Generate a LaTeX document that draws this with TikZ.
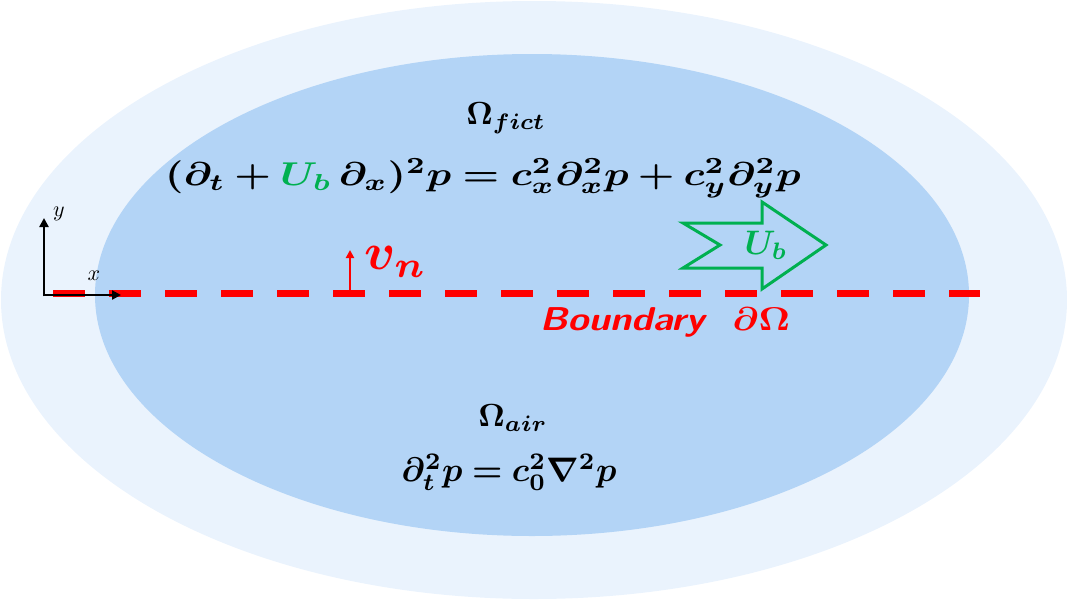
\documentclass[tikz,border=0pt]{standalone}
\usepackage{amsmath,bm}
\usetikzlibrary{arrows.meta}
\definecolor{outerc}{HTML}{EAF3FD}
\definecolor{innerc}{HTML}{B3D4F6}
\definecolor{gr}{HTML}{00B050}
\definecolor{rd}{HTML}{FF0000}
\newcommand{\myscl}[2]{\scalebox{#1}{#2}}
\tikzset{ax/.style={line width=2.5pt,-{Triangle[length=9pt,width=9pt]}}}
\begin{document}
\begin{tikzpicture}[x=1pt,y=-1pt]
\useasboundingbox (0,0) rectangle (1067,600);
\fill[outerc] (534,300) ellipse [x radius=533,y radius=299];
\fill[innerc] (532,295) ellipse [x radius=437,y radius=241];
\node (of) at (506,118) {\myscl{3.2}{$\bm{\Omega_{fict}}$}};
\node (eq1) at (483,178) {\scalebox{4.1}[3.3]{$\bm{(\partial_t+{\color{gr}U_b}\,\partial_x)^2p=c_x^2\partial_x^2p+c_y^2\partial_y^2p}$}};
\draw[rd,line width=7pt,dash pattern=on 32pt off 24pt] (53,293) -- (980,293);
\draw[ax] (44,296.25) -- (44,218) coordinate (ytip);
\draw[ax] (42.75,295) -- (121,295) coordinate (xtip);
\node (yl) at (59,214) {\myscl{2.2}{$y$}};
\node (xl) at (94,276) {\myscl{2.2}{$x$}};
\draw[gr,line width=3pt,line join=miter] (683,223) -- (762,223) -- (762,202) -- (826,245) -- (762,289) -- (762,268) -- (683,268) -- (720,245) -- cycle;
\node[text=gr] (ub) at (766,245) {\myscl{3.4}{$\bm{U_b}$}};
\draw[rd,line width=2.5pt,-{Triangle[length=8pt,width=8pt]}] (350,291) -- (350,250);
\node[text=rd] (vn) at (396,262) {\myscl{5.2}{$\bm{v_n}$}};
\node[text=rd] (bd) at (665,322) {\scalebox{3.8}[3.3]{\bfseries\sffamily\itshape Boundary\ \ $\bm{\partial\Omega}$}};
\node (oa) at (513,418) {\myscl{3.2}{$\bm{\Omega_{air}}$}};
\node (eq2) at (509,472) {\myscl{3.4}{$\bm{\partial_t^2p=c_0^2\nabla^2p}$}};
\end{tikzpicture}
\end{document}
